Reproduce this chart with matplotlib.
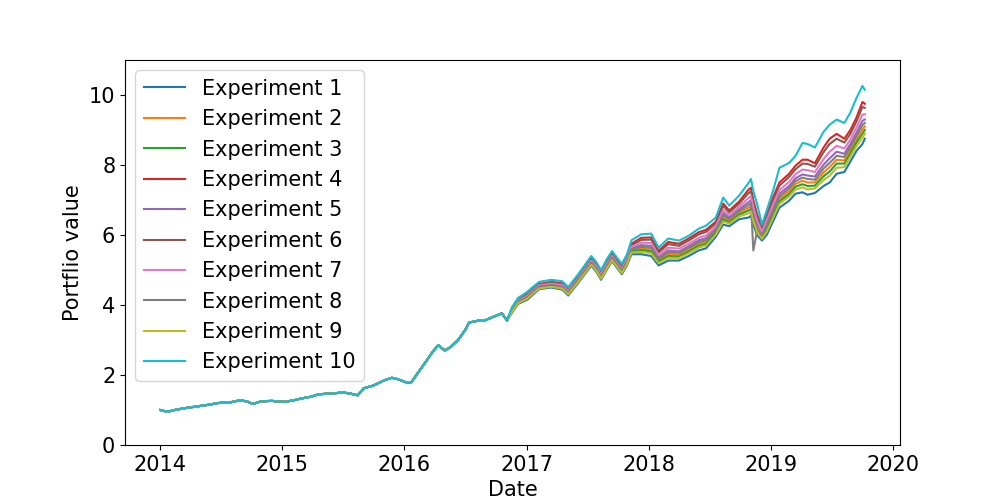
import pandas as pd
import matplotlib
matplotlib.use('Agg')
import matplotlib.pyplot as plt

# Shared part of the curve (all experiments overlap here)
early_dates = [
    '2014-01-02', '2014-01-23', '2014-02-14', '2014-03-15', '2014-04-20', '2014-05-27',
    '2014-06-25', '2014-07-31', '2014-08-29', '2014-09-20', '2014-10-05', '2014-10-31',
    '2014-12-02', '2015-01-08', '2015-02-06', '2015-02-28', '2015-03-29', '2015-04-20',
    '2015-05-27', '2015-07-02', '2015-07-24', '2015-08-15', '2015-09-02', '2015-10-01',
    '2015-11-03', '2015-11-25', '2015-12-13', '2016-01-12', '2016-01-23', '2016-02-10',
    '2016-03-07', '2016-03-29', '2016-04-12', '2016-05-01', '2016-05-19', '2016-06-10',
    '2016-07-02', '2016-07-13', '2016-08-08', '2016-08-29', '2016-09-20', '2016-10-19',
    '2016-11-03',
]
early_values = [
    1.00, 0.95, 1.00, 1.05, 1.10, 1.15, 1.20, 1.22, 1.28, 1.24, 1.17, 1.25,
    1.26, 1.23, 1.28, 1.33, 1.38, 1.45, 1.47, 1.50, 1.47, 1.42, 1.62, 1.70,
    1.85, 1.92, 1.88, 1.77, 1.80, 2.05, 2.40, 2.70, 2.85, 2.70, 2.80, 3.00,
    3.30, 3.50, 3.55, 3.56, 3.65, 3.76, 3.56,
]

# Later part, where the experiments drift apart
late_dates = [
    '2016-11-18', '2016-12-06', '2017-01-03', '2017-01-20', '2017-02-07', '2017-03-15',
    '2017-04-17', '2017-05-05', '2017-06-03', '2017-06-25', '2017-07-13', '2017-07-28',
    '2017-08-11', '2017-08-29', '2017-09-13', '2017-10-12', '2017-10-27', '2017-11-10',
    '2017-12-09', '2018-01-08', '2018-01-30', '2018-02-28', '2018-04-01', '2018-04-30',
    '2018-05-30', '2018-06-21', '2018-07-20', '2018-08-11', '2018-08-29', '2018-09-27',
    '2018-10-26', '2018-11-02', '2018-11-09', '2018-11-20', '2018-12-05', '2018-12-19',
    '2019-01-08', '2019-01-26', '2019-02-24', '2019-03-15', '2019-04-05', '2019-04-20',
    '2019-05-12', '2019-06-07', '2019-06-25', '2019-07-16', '2019-08-08', '2019-08-26',
    '2019-09-13', '2019-10-01', '2019-10-08',
]

exp1_late = [
    3.78, 4.03, 4.15, 4.30, 4.45, 4.50, 4.44, 4.27, 4.62, 4.90, 5.12, 4.95, 4.72,
    5.02, 5.25, 4.88, 5.12, 5.45, 5.45, 5.40, 5.13, 5.27, 5.27, 5.40, 5.56, 5.62,
    5.95, 6.30, 6.25, 6.45, 6.50, 6.55, 6.30, 6.00, 5.84, 6.00, 6.41, 6.78, 6.98,
    7.18, 7.22, 7.15, 7.20, 7.40, 7.50, 7.75, 7.80, 8.10, 8.40, 8.60, 8.75,
]
exp2_late = [
    3.82, 4.08, 4.21, 4.36, 4.50, 4.56, 4.50, 4.33, 4.69, 4.97, 5.19, 5.02, 4.79,
    5.10, 5.33, 4.96, 5.21, 5.56, 5.61, 5.59, 5.28, 5.46, 5.44, 5.58, 5.74, 5.81,
    6.10, 6.51, 6.41, 6.63, 6.78, 6.83, 6.55, 6.21, 5.97, 6.21, 6.65, 7.03, 7.25,
    7.46, 7.55, 7.50, 7.50, 7.79, 7.94, 8.15, 8.13, 8.42, 8.73, 9.02, 9.10,
]
exp3_late = [
    3.81, 4.06, 4.19, 4.34, 4.49, 4.54, 4.49, 4.32, 4.67, 4.95, 5.17, 5.00, 4.77,
    5.08, 5.31, 4.94, 5.18, 5.53, 5.57, 5.53, 5.24, 5.40, 5.39, 5.53, 5.69, 5.75,
    6.06, 6.45, 6.36, 6.58, 6.70, 6.75, 6.48, 6.15, 5.93, 6.15, 6.58, 6.96, 7.17,
    7.38, 7.45, 7.40, 7.41, 7.68, 7.81, 8.04, 8.04, 8.33, 8.64, 8.90, 9.00,
]
exp4_late = [
    3.90, 4.16, 4.32, 4.47, 4.60, 4.66, 4.62, 4.45, 4.81, 5.10, 5.33, 5.16, 4.93,
    5.25, 5.47, 5.10, 5.37, 5.75, 5.92, 5.93, 5.55, 5.80, 5.75, 5.90, 6.08, 6.15,
    6.38, 6.90, 6.70, 6.95, 7.30, 7.35, 7.00, 6.60, 6.20, 6.60, 7.10, 7.50, 7.75,
    7.98, 8.15, 8.15, 8.05, 8.50, 8.75, 8.89, 8.75, 9.00, 9.35, 9.80, 9.75,
]
exp5_late = [
    3.85, 4.10, 4.24, 4.39, 4.53, 4.59, 4.54, 4.37, 4.72, 5.01, 5.24, 5.07, 4.84,
    5.15, 5.37, 5.00, 5.26, 5.62, 5.71, 5.69, 5.36, 5.56, 5.53, 5.68, 5.85, 5.91,
    6.19, 6.63, 6.50, 6.73, 6.94, 6.99, 6.69, 6.33, 6.04, 6.33, 6.79, 7.18, 7.40,
    7.62, 7.73, 7.70, 7.67, 8.01, 8.19, 8.38, 8.32, 8.60, 8.92, 9.26, 9.30,
]
exp6_late = [
    3.89, 4.14, 4.30, 4.45, 4.58, 4.64, 4.60, 4.43, 4.79, 5.08, 5.30, 5.13, 4.90,
    5.22, 5.44, 5.07, 5.34, 5.71, 5.86, 5.87, 5.50, 5.74, 5.69, 5.84, 6.02, 6.09,
    6.33, 6.83, 6.65, 6.89, 7.20, 7.25, 6.92, 6.53, 6.16, 6.53, 7.02, 7.41, 7.66,
    7.88, 8.04, 8.03, 7.95, 8.37, 8.60, 8.75, 8.64, 8.89, 9.24, 9.66, 9.63,
]
exp7_late = [
    3.86, 4.12, 4.27, 4.42, 4.56, 4.61, 4.57, 4.40, 4.75, 5.04, 5.27, 5.10, 4.87,
    5.18, 5.40, 5.03, 5.30, 5.66, 5.78, 5.77, 5.42, 5.64, 5.61, 5.75, 5.92, 5.99,
    6.25, 6.72, 6.57, 6.80, 7.06, 7.11, 6.79, 6.42, 6.09, 6.42, 6.89, 7.28, 7.52,
    7.74, 7.87, 7.85, 7.80, 8.17, 8.38, 8.55, 8.47, 8.73, 9.07, 9.44, 9.45,
]
exp8_late = [
    3.83, 4.09, 4.23, 4.38, 4.52, 4.57, 4.52, 4.35, 4.71, 4.99, 5.21, 5.04, 4.81,
    5.12, 5.35, 4.98, 5.23, 5.59, 5.66, 5.64, 5.32, 5.51, 5.49, 5.63, 5.79, 5.86,
    6.14, 6.57, 6.45, 6.68, 6.86, 6.91, 5.56, 6.10, 6.00, 6.27, 6.72, 7.10, 7.33,
    7.54, 7.64, 7.60, 7.58, 7.90, 8.06, 8.26, 8.23, 8.51, 8.83, 9.14, 9.20,
]
exp9_late = [
    3.80, 4.05, 4.18, 4.33, 4.47, 4.52, 4.47, 4.30, 4.65, 4.93, 5.15, 4.98, 4.75,
    5.05, 5.28, 4.91, 5.16, 5.50, 5.52, 5.48, 5.19, 5.35, 5.34, 5.48, 5.64, 5.70,
    6.01, 6.39, 6.32, 6.53, 6.62, 6.67, 6.41, 6.09, 5.89, 6.09, 6.51, 6.89, 7.10,
    7.30, 7.36, 7.30, 7.33, 7.57, 7.69, 7.92, 7.94, 8.24, 8.54, 8.78, 8.90,
]
exp10_late = [
    3.94, 4.20, 4.38, 4.52, 4.66, 4.72, 4.68, 4.51, 4.87, 5.16, 5.40, 5.22, 5.00,
    5.32, 5.54, 5.17, 5.44, 5.85, 6.02, 6.04, 5.64, 5.90, 5.84, 5.98, 6.18, 6.27,
    6.50, 7.07, 6.84, 7.12, 7.49, 7.60, 7.26, 6.90, 6.30, 6.70, 7.30, 7.92, 8.06,
    8.26, 8.63, 8.60, 8.50, 8.95, 9.15, 9.30, 9.20, 9.50, 9.91, 10.26, 10.15,
]

experiment_labels = [f'Experiment {i}' for i in range(1, 11)]
late_series = [exp1_late, exp2_late, exp3_late, exp4_late, exp5_late,
               exp6_late, exp7_late, exp8_late, exp9_late, exp10_late]


def build_frame() -> pd.DataFrame:
    index = pd.to_datetime(early_dates + late_dates)
    data = {label: early_values + late
            for label, late in zip(experiment_labels, late_series)}
    return pd.DataFrame(data, index=index)


def plot_portfolio(df: pd.DataFrame) -> None:
    fig, ax = plt.subplots(figsize=(10, 5), dpi=100)

    for label in df.columns:
        ax.plot(df.index, df[label], label=label, linewidth=1.5)

    ax.set_ylim(0, 11)
    ax.set_xlabel('Date', fontsize=15)
    ax.set_ylabel('Portflio value', fontsize=15)
    ax.tick_params(labelsize=15)
    ax.legend(loc='upper left', fontsize=15)

    fig.savefig('out.png')


def main():
    df = build_frame()
    plot_portfolio(df)


if __name__ == "__main__":
    main()
